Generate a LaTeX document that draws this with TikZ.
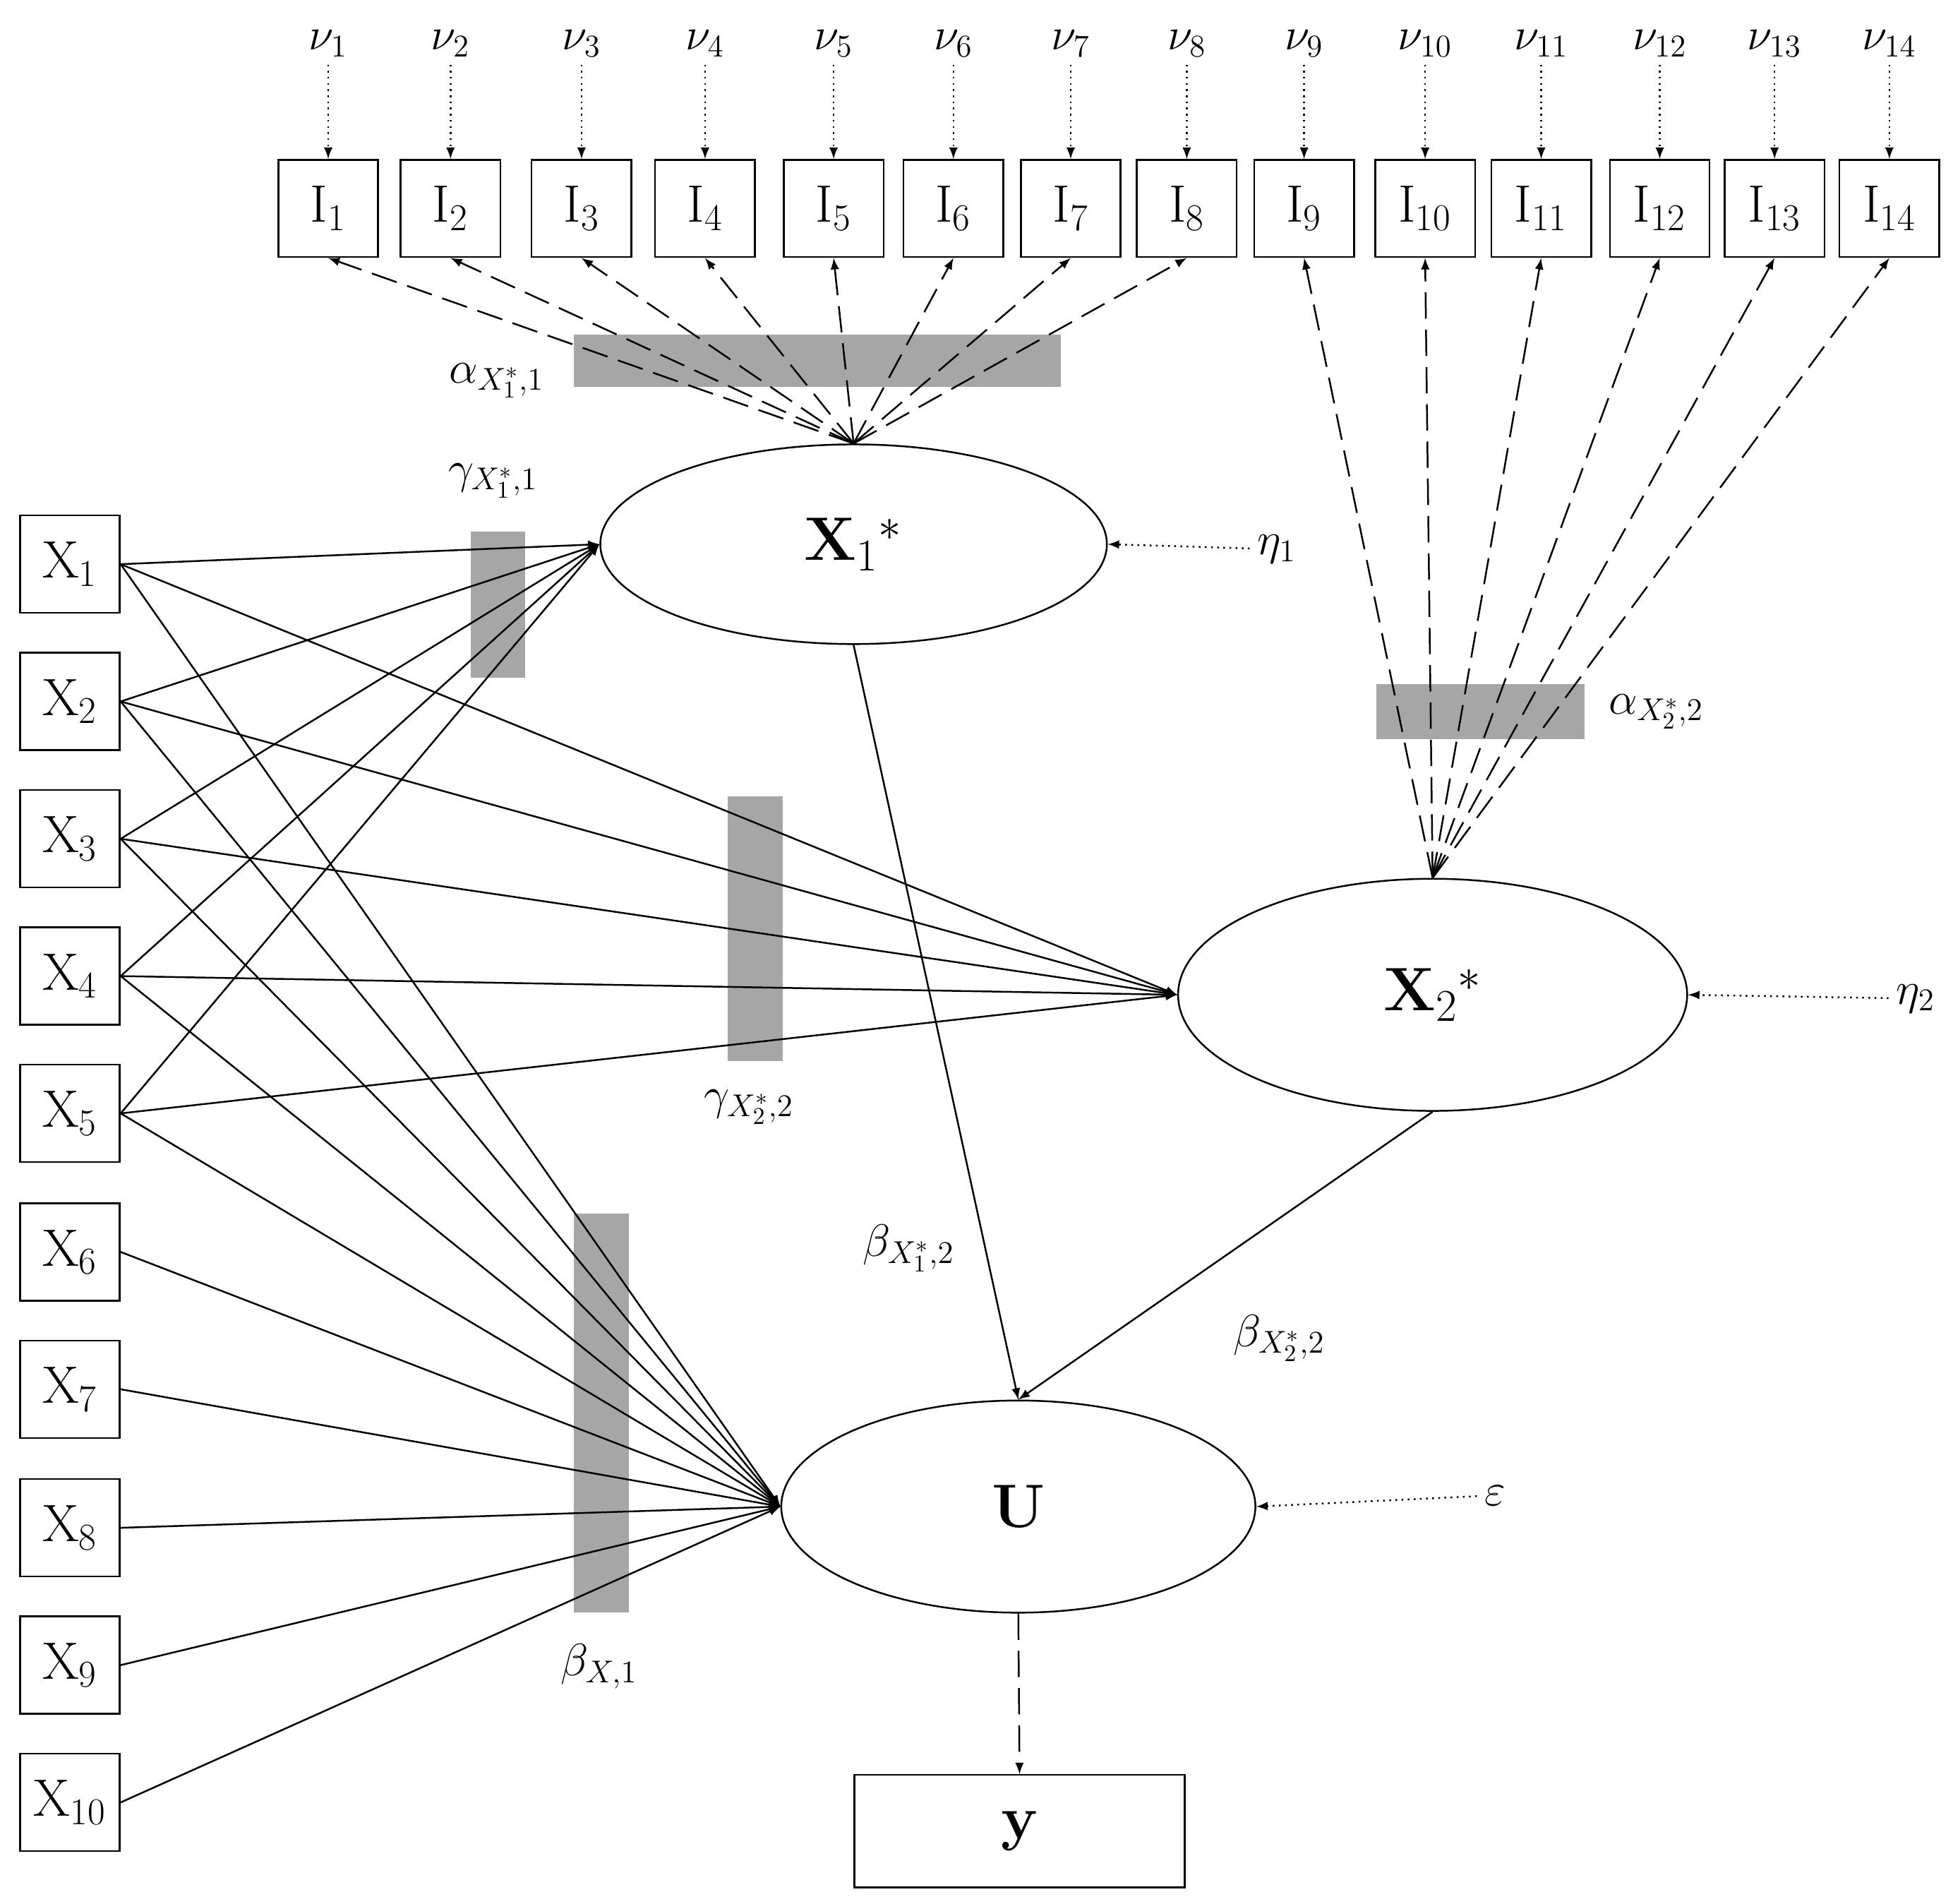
\documentclass[tikz,border=0pt]{standalone}
\usetikzlibrary{shapes.geometric,arrows}
\begin{document}
\begin{tikzpicture}[x=0.02cm,y=-0.02cm,
 box/.style={draw,thick,fill=white,minimum width=1.6cm,minimum height=1.56cm,inner sep=0pt,font=\fontsize{24}{28}\selectfont},
 ell/.style={draw,thick,ellipse,fill=white,inner sep=0pt,font=\fontsize{28}{32}\selectfont\bfseries},
 lab/.style={font=\fontsize{22}{26}\selectfont},
 sol/.style={thick,-latex},
 dsh/.style={thick,dash pattern=on 12pt off 5pt,-latex},
 dot/.style={thick,dotted,-latex},
 gr/.style={fill=black!35,draw=none}]
\useasboundingbox (0,0) rectangle (1565,1525);
% gray bars
\fill[gr] (460,268) rectangle (850,310);
\fill[gr] (377,426) rectangle (421,543);
\fill[gr] (583,638) rectangle (627,850);
\fill[gr] (460,972) rectangle (504,1292);
\fill[gr] (1103,548) rectangle (1270,592);
% indicator boxes
\foreach \i/\x in {1/263,2/361,3/466,4/565,5/668,6/764,7/858,8/951,9/1045,10/1142,11/1235,12/1330,13/1422,14/1514}{
  \node[box] (I\i) at (\x,167) {I$_{\i}$};
  \node[lab] (v\i) at (\x,35) {$\nu_{\i}$};
  \draw[dot] (v\i) -- (I\i);
}
% X boxes
\foreach \i/\y in {1/452,2/562,3/672,4/782,5/892,6/1003,7/1113,8/1224,9/1334,10/1444}{
  \node[box] (X\i) at (56,\y) {X$_{\i}$};
}
\node[ell,minimum width=8.12cm,minimum height=3.2cm] (L1) at (684,436) {X$_1$$^*$};
\node[ell,minimum width=8.16cm,minimum height=3.72cm] (L2) at (1148,797) {X$_2$$^*$};
\node[ell,minimum width=7.6cm,minimum height=3.4cm] (U) at (816,1207) {U};
\node[box,minimum width=5.3cm,minimum height=1.8cm,font=\fontsize{28}{32}\selectfont\bfseries] (y) at (817,1467) {y};
% loadings
\foreach \i in {1,...,8}{\draw[dsh] (L1.north) -- (I\i.south);}
\foreach \i in {9,...,14}{\draw[dsh] (L2.north) -- (I\i.south);}
% structural
\foreach \i in {1,...,5}{\draw[sol] (X\i.east) -- (L1.west); \draw[sol] (X\i.east) -- (L2.west);}
\foreach \i in {1,...,10}{\draw[sol] (X\i.east) -- (U.west);}
\draw[sol] (L1.south) -- (U.north);
\draw[sol] (L2.south) -- (U.north);
\draw[dsh] (U.south) -- (y.north);
% errors
\node[lab] (e1) at (1023,440) {$\eta_1$};
\node[lab] (e2) at (1535,800) {$\eta_2$};
\node[lab] (ep) at (1198,1198) {$\varepsilon$};
\draw[dot] (e1) -- (L1.east);
\draw[dot] (e2) -- (L2.east);
\draw[dot] (ep) -- (U.east);
% labels
\node[lab] (a1) at (398,305) {$\alpha_{X_1^*,1}$};
\node[lab] (g1) at (395,385) {$\gamma_{X_1^*,1}$};
\node[lab] (g2) at (600,887) {$\gamma_{X_2^*,2}$};
\node[lab] (bx) at (480,1335) {$\beta_{X,1}$};
\node[lab] (b1) at (728,1000) {$\beta_{X_1^*,2}$};
\node[lab] (b2) at (1025,1072) {$\beta_{X_2^*,2}$};
\node[lab] (a2) at (1327,570) {$\alpha_{X_2^*,2}$};
\end{tikzpicture}
\end{document}
